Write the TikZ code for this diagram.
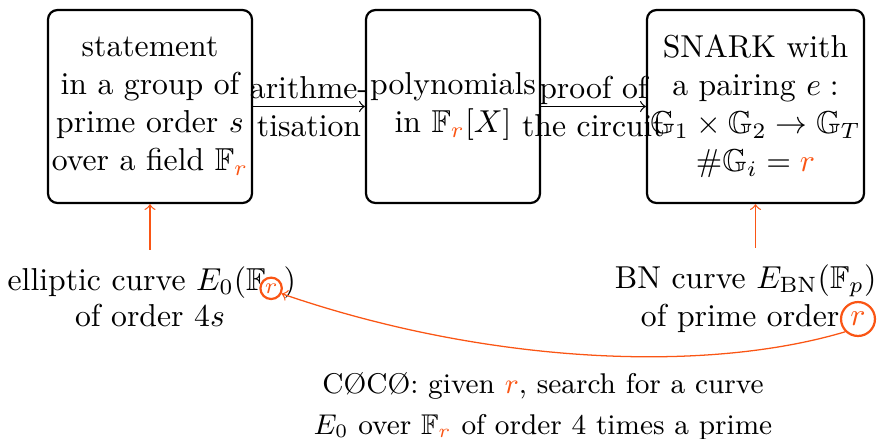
\documentclass[tikz,border=0pt]{standalone}
\usepackage{amssymb}
\definecolor{myorange}{RGB}{250,85,20}
\begin{document}
\begin{tikzpicture}[x=0.31546pt,y=0.31546pt,
  box/.style={draw, line width=0.7pt, rounded corners=3pt, minimum height=60.88pt, align=center, inner sep=0pt},
  lbl/.style={align=center, inner sep=0pt},
  txt/.style={inner sep=0pt},
  rc/.style={circle, draw=myorange, line width=0.7pt, inner sep=0pt},
  oarr/.style={->, myorange},
]
\useasboundingbox (0,0) rectangle (880,-438);
% boxes
\node[box, minimum width=64.35pt] (b1) at (150,-106.5)
  {statement\\in a group of\\prime order $s$\\over a field $\mathbb{F}_{\textcolor{myorange}{r}}$};
\node[box, minimum width=54.89pt] (b2) at (453,-106.5)
  {polynomials\\in $\mathbb{F}_{\textcolor{myorange}{r}}[X]$};
\node[box, minimum width=68.46pt] (b3) at (755.5,-106.5)
  {SNARK with\\a pairing $e:$\\$\mathbb{G}_1\times\mathbb{G}_2\to\mathbb{G}_T$\\$\#\mathbb{G}_i=\textcolor{myorange}{r}$};
\draw[->] (b1) -- (b2) node[lbl, midway] {arithme-\\tisation};
\draw[->] (b2) -- (b3) node[lbl, midway] {proof of\\the circuit};
% elliptic curve E0
\node[txt, anchor=base west] (ec1) at (7,-290) {elliptic curve $E_0(\mathbb{F}$};
\node[rc, minimum size=6.75pt] (r1) at ([shift={(5,1.7)}]ec1.base east) {\textcolor{myorange}{$\scriptstyle r$}};
\node[txt, anchor=base west] (ec2) at (r1.east |- ec1.base) {$)$};
\node[txt, anchor=base] (ec3) at (150,-326) {of order $4s$};
% BN curve
\node[txt, anchor=base east] (bn1) at (877,-288) {BN curve $E_{\mathrm{BN}}(\mathbb{F}_p)$};
\node[txt, anchor=base east] (bn2) at (840,-326) {of prime order};
\node[rc, minimum size=10.7pt] (r2) at (858,-319) {\textcolor{myorange}{$r$}};
% Cocks-Pinch text
\node[lbl, font=\small] (cc) at (543,-406)
  {C\O C\O: given \textcolor{myorange}{$r$}, search for a curve\\[2pt]$E_0$ over $\mathbb{F}_{\textcolor{myorange}{r}}$ of order 4 times a prime};
% connectors
\draw[oarr, shorten <=5pt] (b1.south |- ec1.north) -- (b1.south);
\draw[oarr, shorten <=5pt] (b3.south |- bn1.north) -- (b3.south);
\draw[oarr] (r2.225) .. controls (700,-375) and (480,-362) .. (r1.-27);
\end{tikzpicture}
\end{document}
